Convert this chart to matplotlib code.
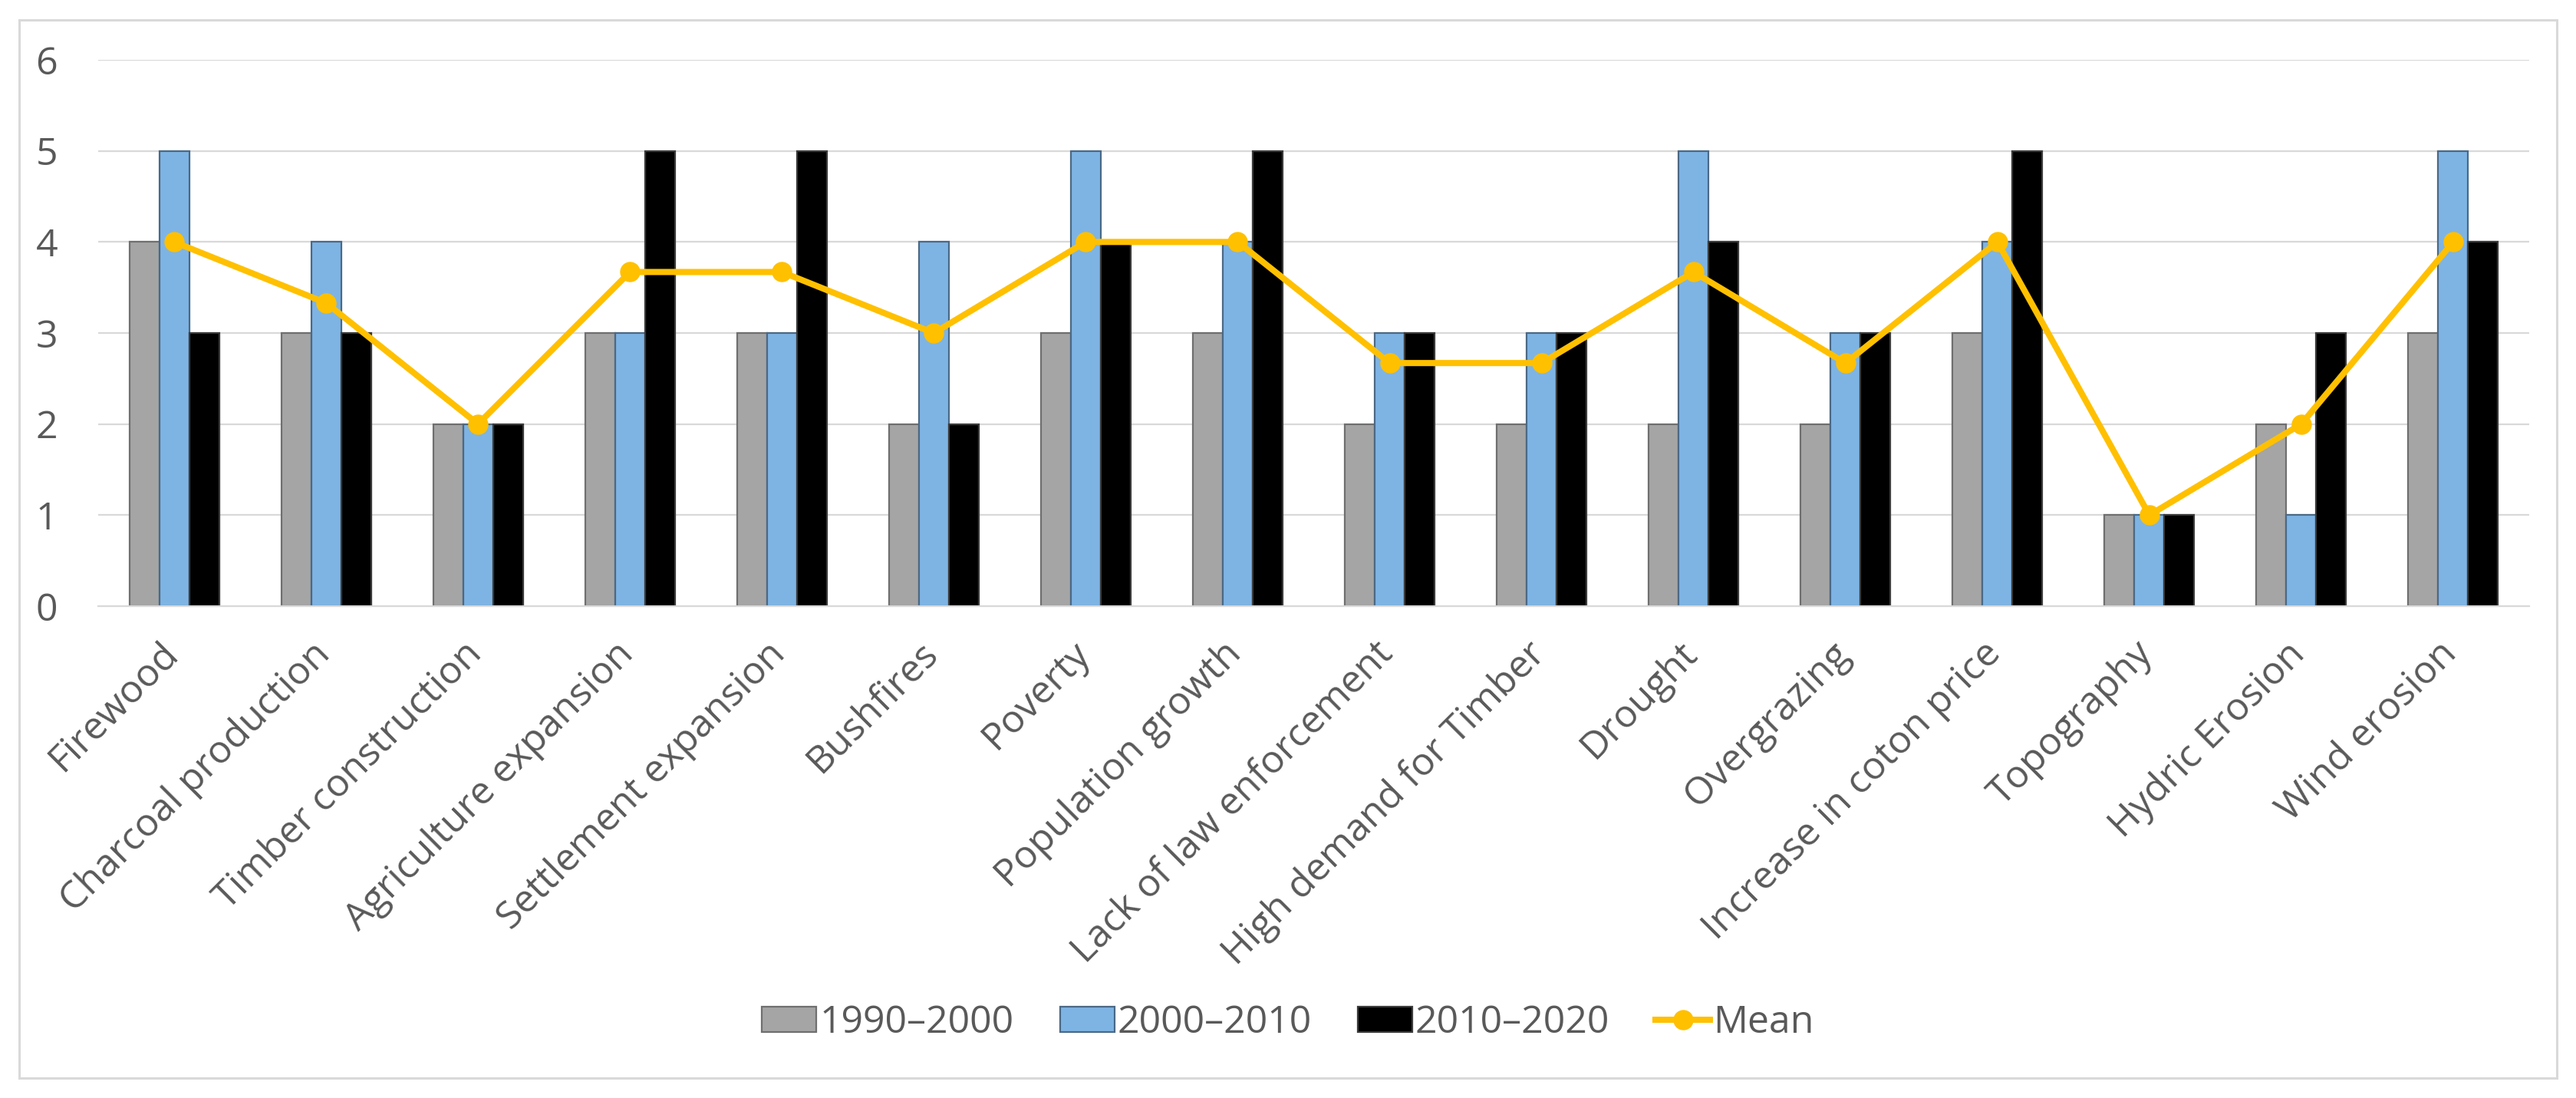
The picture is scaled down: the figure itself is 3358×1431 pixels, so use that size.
import numpy as np
from matplotlib import pyplot as plt
from matplotlib.patches import Rectangle
from matplotlib.transforms import ScaledTranslation

# Values
categories = ['Firewood', 'Charcoal production', 'Timber construction',
              'Agriculture expansion', 'Settlement expansion', 'Bushfires',
              'Poverty', 'Population growth', 'Lack of law enforcement',
              'High demand for Timber', 'Drought', 'Overgrazing',
              'Increase in coton price', 'Topography', 'Hydric Erosion',
              'Wind erosion']
p1990 = [4, 3, 2, 3, 3, 2, 3, 3, 2, 2, 2, 2, 3, 1, 2, 3]
p2000 = [5, 4, 2, 3, 3, 4, 5, 4, 3, 3, 5, 3, 4, 1, 1, 5]
p2010 = [3, 3, 2, 5, 5, 2, 4, 5, 3, 3, 4, 3, 5, 1, 3, 4]
mean = [4, 3.33, 2, 3.67, 3.67, 3, 4, 4, 2.67, 2.67, 3.67, 2.67, 4, 1, 2, 4]
series_names = ['1990\u20132000', '2000\u20132010', '2010\u20132020', 'Mean']

text_color = '#595959'
plt.rcParams['font.family'] = ['Open Sans', 'DejaVu Sans']

fig = plt.figure(figsize=(33.58, 14.31), dpi=100)
ax = fig.add_axes([128 / 3358, 1 - 790 / 1431, (3297 - 128) / 3358, (790 - 78) / 1431])

# Light grey outer frame
fig.patches.append(Rectangle((25 / 3358, 1 - 1405 / 1431), (3333 - 25) / 3358,
                             (1405 - 26) / 1431, transform=fig.transFigure,
                             fill=False, edgecolor='#D9D9D9', linewidth=2.2))

x = np.arange(len(categories))
w = 0.197
b1 = ax.bar(x - w, p1990, w, color='#A5A5A5', edgecolor='#6F6F6F', linewidth=1.6,
            label=series_names[0], zorder=2)
b2 = ax.bar(x, p2000, w, color='#7EB4E4', edgecolor='#4A6986', linewidth=1.6,
            label=series_names[1], zorder=2)
b3 = ax.bar(x + w, p2010, w, color='#000000', edgecolor='#3A3A3A', linewidth=1.6,
            label=series_names[2], zorder=2)
ln, = ax.plot(x, mean, color='#FFC000', linewidth=5.8, marker='o', markersize=18,
              label=series_names[3], zorder=3)

ax.set_xlim(-0.5, len(categories) - 0.5)
ax.set_ylim(0, 6)
ax.set_yticks(range(0, 7))
ax.yaxis.grid(True, color='#D9D9D9', linewidth=1.6, zorder=0)
ax.set_axisbelow(True)
for s in ['top', 'right', 'left']:
    ax.spines[s].set_visible(False)
ax.spines['bottom'].set_color('#D9D9D9')
ax.spines['bottom'].set_linewidth(1.6)
ax.tick_params(axis='both', length=0, colors=text_color, labelsize=36)
ax.tick_params(axis='y', pad=38)
ax.tick_params(axis='x', pad=27)

ax.set_xticks(x)
ax.set_xticklabels(categories, rotation=45, ha='right', va='top',
                   rotation_mode='anchor', color=text_color)
shift = ScaledTranslation(-0.2, 0, fig.dpi_scale_trans)
for lab in ax.get_xticklabels():
    lab.set_transform(lab.get_transform() + shift)

leg = fig.legend([b1, b2, b3, ln], series_names, loc='center',
                 bbox_to_anchor=(0.5, 1 - 1333 / 1431), ncol=4,
                 frameon=False, fontsize=36, handlelength=1.42,
                 handleheight=0.65, handletextpad=0.08, columnspacing=1.2)
for t in leg.get_texts():
    t.set_color(text_color)

plt.savefig('out.png', dpi=100)
